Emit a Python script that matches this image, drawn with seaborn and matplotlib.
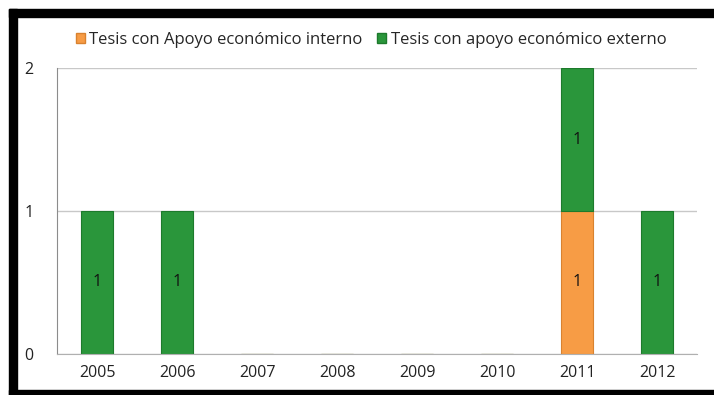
import matplotlib
matplotlib.use('Agg')
import matplotlib.pyplot as plt
import seaborn as sns
import pandas as pd
from matplotlib.patches import Rectangle, Patch

years = ['2005', '2006', '2007', '2008', '2009', '2010', '2011', '2012']
interno = [0, 0, 0, 0, 0, 0, 1, 0]
externo = [1, 1, 0, 0, 0, 0, 1, 1]
series_names = ['Tesis con Apoyo económico interno', 'Tesis con apoyo económico externo']

df = pd.DataFrame({'year': years, 'interno': interno, 'externo': externo})

sns.set_style('white')
plt.rcParams['font.family'] = ['Open Sans', 'DejaVu Sans']

W, H = 714, 395
fig = plt.figure(figsize=(W / 100, H / 100), dpi=100)
ax = fig.add_axes([57 / W, 1 - 354 / H, 640 / W, 286 / H])

orange = '#f79c45'
green = '#2a963b'

sns.barplot(x='year', y='interno', data=df, color=orange, width=0.4,
            edgecolor='#d9822f', linewidth=0.8, saturation=1, ax=ax)
sns.barplot(x='year', y='externo', data=df, bottom=df['interno'], color=green,
            width=0.4, edgecolor='#1d7a2c', linewidth=0.8, saturation=1, ax=ax)

# etiquetas de datos
for i in range(len(years)):
    if interno[i]:
        ax.text(i, interno[i] / 2, str(interno[i]), ha='center', va='center',
                fontsize=11.5, color='#111111')
    if externo[i]:
        ax.text(i, interno[i] + externo[i] / 2, str(externo[i]), ha='center', va='center',
                fontsize=11.5, color='#111111')

ax.set_xlim(-0.5, len(years) - 0.5)
ax.set_ylim(0, 2)
ax.set_yticks([0, 1, 2])
ax.set_xlabel('')
ax.set_ylabel('')
ax.yaxis.grid(True, color='#c8c8c8', linewidth=1)
ax.set_axisbelow(True)

for s in ['top', 'right']:
    ax.spines[s].set_visible(False)
ax.spines['left'].set_color('#8c8c8c')
ax.spines['bottom'].set_color('#b0b0b0')

ax.set_xticks(range(len(years)))
ax.set_xticklabels(years, fontsize=11.5, color='#222222')
ax.tick_params(axis='x', length=0, pad=8)
ax.set_xticks([k - 0.5 for k in range(len(years) + 1)], minor=True)
ax.tick_params(axis='x', which='minor', length=5, color='#b0b0b0', direction='out')
ax.tick_params(axis='y', length=5, color='#c8c8c8', labelsize=11.5, pad=12, labelcolor='#222222')

handles = [Patch(facecolor=orange, edgecolor='#d9822f'), Patch(facecolor=green, edgecolor='#1d7a2c')]
fig.legend(handles, series_names, loc='center', bbox_to_anchor=(371 / W, 1 - 40 / H),
           ncol=2, frameon=False, fontsize=12, handlelength=0.55, handleheight=0.55,
           handletextpad=0.25, columnspacing=0.9)

# marco negro de la captura
fig.add_artist(Rectangle((9 / W, 0), 8 / W, 1 - 9 / H, transform=fig.transFigure, color='black'))
fig.add_artist(Rectangle((9 / W, 1 - 17 / H), 1 - 9 / W, 8 / H, transform=fig.transFigure, color='black'))
fig.add_artist(Rectangle((9 / W, 0), 1 - 9 / W, 5 / H, transform=fig.transFigure, color='black'))

fig.savefig('out.png', dpi=100)
